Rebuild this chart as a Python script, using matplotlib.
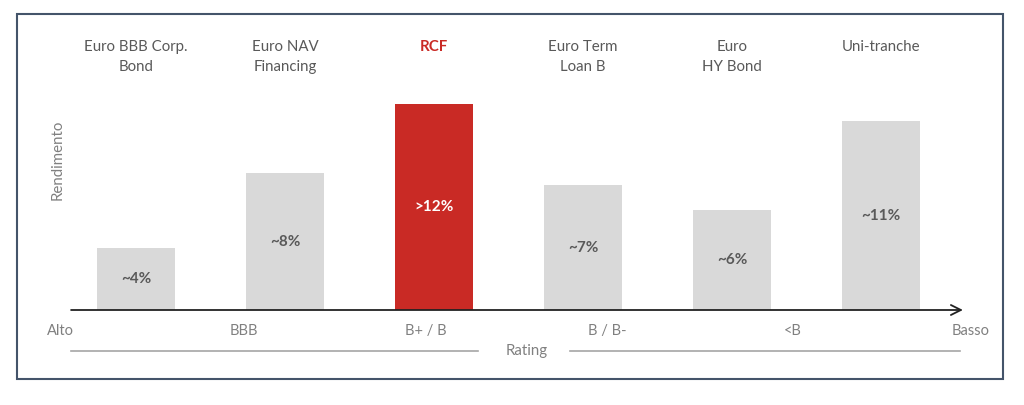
import matplotlib.pyplot as plt
from matplotlib.patches import Rectangle

# data
products = ["Euro BBB Corp.\nBond", "Euro NAV\nFinancing", "RCF",
            "Euro Term\nLoan B", "Euro\nHY Bond", "Uni-tranche"]
heights = [3.6, 8.0, 12.05, 7.3, 5.85, 11.05]
value_labels = ["~4%", "~8%", ">12%", "~7%", "~6%", "~11%"]
rating_labels = ["Alto", "BBB", "B+ / B", "B / B-", "<B", "Basso"]
highlight = 2

# layout (data units)
rating_x = [-0.51, 0.725, 1.946, 3.16, 4.41, 5.60]
x_start, x_end = -0.436, 5.53

plt.rcParams['font.family'] = ['Lato', 'DejaVu Sans']

GREY_BAR = "#d9d9d9"
RED = "#c92a25"
TXT = "#595959"
TXT_LIGHT = "#808080"
LINE = "#a6a6a6"

fig = plt.figure(figsize=(10.24, 4.05), dpi=100)
ax = fig.add_axes([0, 0, 1, 1])
ax.set_xlim(-0.913, 5.960)
ax.set_ylim(-5.556, 18.13)
ax.axis('off')

# frame
fig.patches.append(Rectangle((17 / 1024, 1 - 379 / 405), 986 / 1024, 365 / 405,
                             transform=fig.transFigure, fill=False,
                             edgecolor="#44546a", linewidth=1.5))

xs = list(range(len(products)))
colors = [RED if i == highlight else GREY_BAR for i in xs]
ax.bar(xs, heights, width=0.523, color=colors, zorder=2)

for i, (h, lab) in enumerate(zip(heights, value_labels)):
    ax.text(i, h / 2, lab, ha='center', va='center', fontsize=11, fontweight='bold',
            color='white' if i == highlight else TXT, zorder=3)

for i, name in enumerate(products):
    ax.text(i, 15.78, name, ha='center', va='top', fontsize=10.8,
            color=RED if i == highlight else TXT,
            fontweight='bold' if i == highlight else 'normal', linespacing=1.5)

# axis arrow
ax.annotate("", xy=(x_end + 0.02, 0), xytext=(x_start, 0),
            arrowprops=dict(arrowstyle='->', color='#222222', lw=1.3,
                            mutation_scale=18, shrinkA=0, shrinkB=0))

for x, lab in zip(rating_x, rating_labels):
    ax.text(x, -1.23, lab, ha='center', va='center', fontsize=10.5, color=TXT_LIGHT)

ax.plot([x_start, 2.295], [-2.40, -2.40], color=LINE, lw=1.2)
ax.plot([2.913, x_end], [-2.40, -2.40], color=LINE, lw=1.2)
ax.text(2.624, -2.40, "Rating", ha='center', va='center', fontsize=10.8, color=TXT_LIGHT)

ax.text(-0.523, 8.8, "Rendimento", ha='center', va='center', rotation=90,
        fontsize=10.8, color=TXT_LIGHT)

fig.savefig("out.png", dpi=100)
